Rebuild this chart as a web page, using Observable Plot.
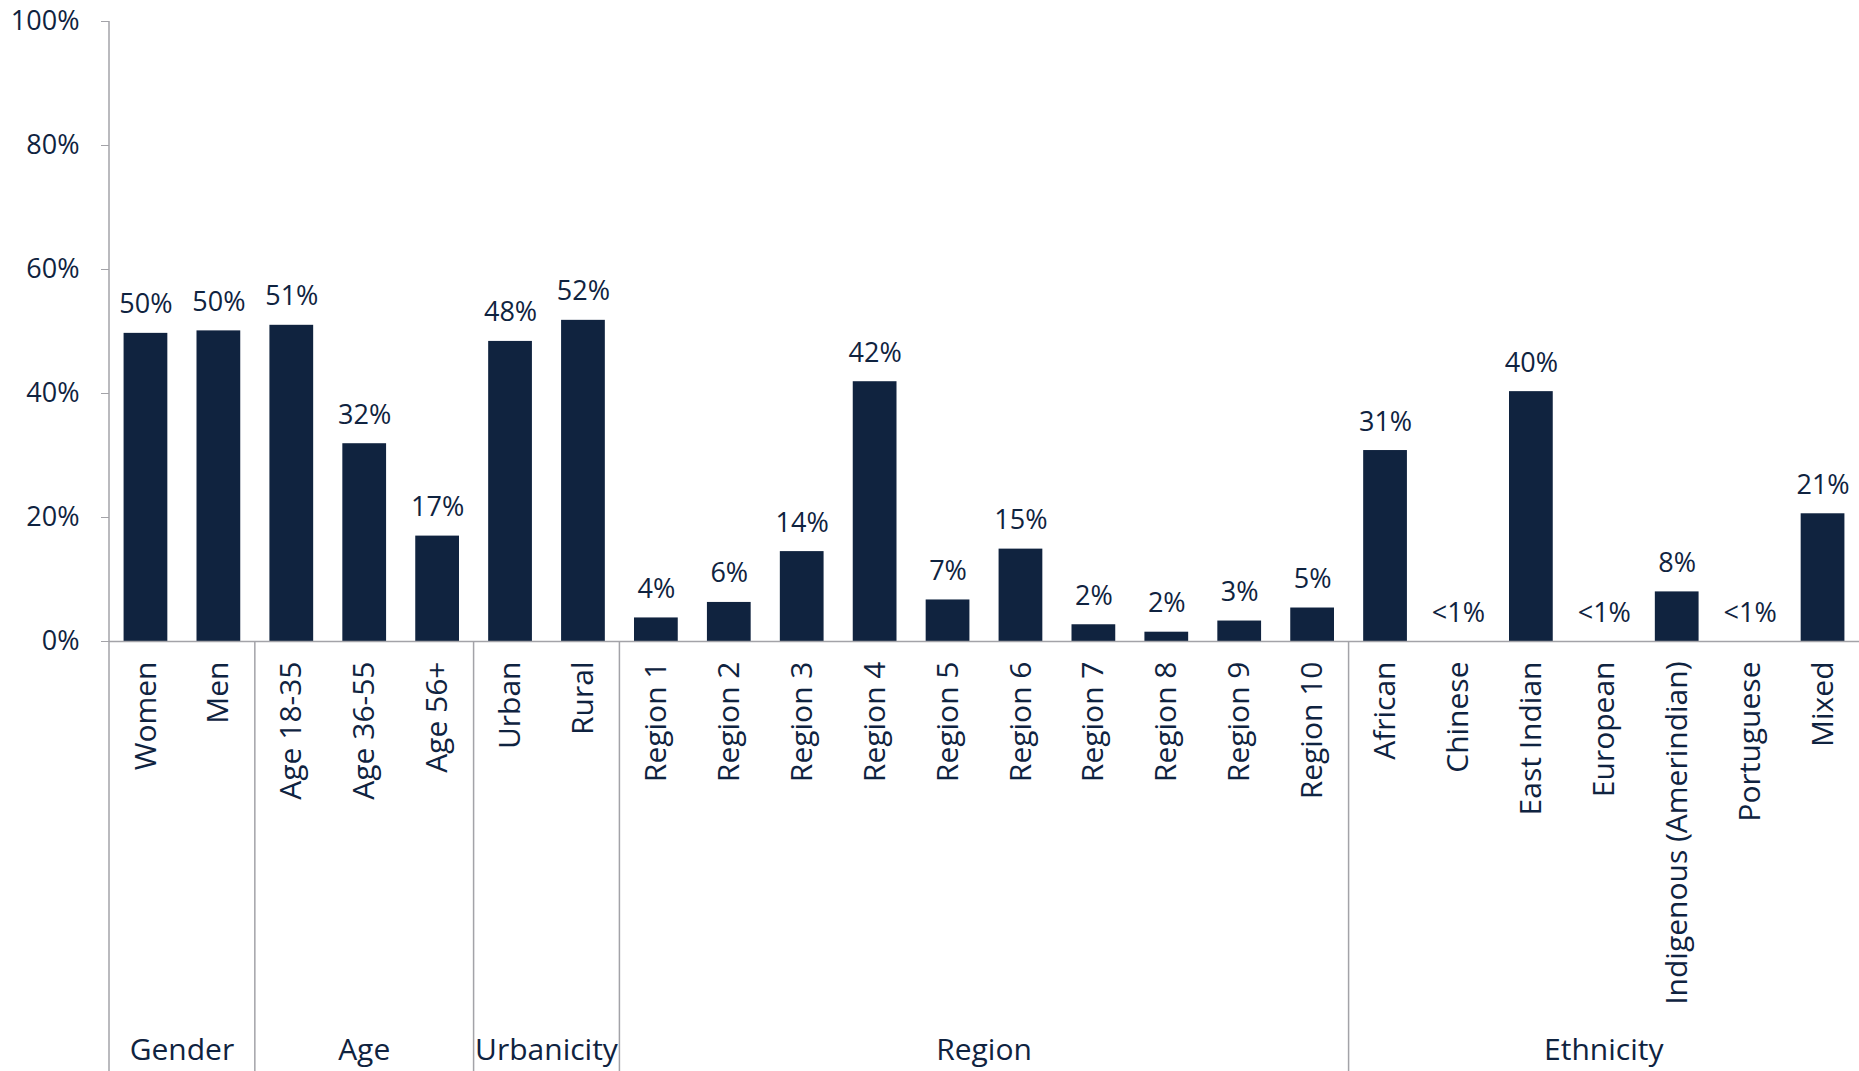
<!DOCTYPE html>
<html>
<head>
<meta charset="utf-8">
<script src="https://cdn.jsdelivr.net/npm/d3@7"></script>
<script src="https://cdn.jsdelivr.net/npm/@observablehq/plot@0.6"></script>
<style>
  html, body { margin: 0; padding: 0; background: #ffffff; }
  #chart { width: 1859px; height: 1071px; overflow: hidden; }
</style>
</head>
<body>
<div id="chart"></div>
<script>
const categories = ["Women", "Men", "Age 18-35", "Age 36-55", "Age 56+", "Urban", "Rural",
  "Region 1", "Region 2", "Region 3", "Region 4", "Region 5", "Region 6", "Region 7", "Region 8", "Region 9", "Region 10",
  "African", "Chinese", "East Indian", "European", "Indigenous (Amerindian)", "Portuguese", "Mixed"];
const groups = ["Gender", "Gender", "Age", "Age", "Age", "Urbanicity", "Urbanicity",
  "Region", "Region", "Region", "Region", "Region", "Region", "Region", "Region", "Region", "Region",
  "Ethnicity", "Ethnicity", "Ethnicity", "Ethnicity", "Ethnicity", "Ethnicity", "Ethnicity"];
const values = [0.497, 0.501, 0.510, 0.319, 0.170, 0.484, 0.518,
  0.038, 0.063, 0.145, 0.419, 0.067, 0.149, 0.027, 0.015, 0.033, 0.054,
  0.308, 0, 0.403, 0, 0.080, 0, 0.206];
const valueLabels = ["50%", "50%", "51%", "32%", "17%", "48%", "52%",
  "4%", "6%", "14%", "42%", "7%", "15%", "2%", "2%", "3%", "5%",
  "31%", "<1%", "40%", "<1%", "8%", "<1%", "21%"];
const yTicks = [0, 0.2, 0.4, 0.6, 0.8, 1.0];
const yTickLabels = ["0%", "20%", "40%", "60%", "80%", "100%"];

const navy = "#0f2340";
const gray = "#a3a3a8";
const data = categories.map((c, i) => ({category: c, group: groups[i], value: values[i], label: valueLabels[i]}));
const groupNames = Array.from(new Set(groups));

const paddingInner = 0.4, paddingOuter = 0.2;

function groupDecor(index, scales, values, dimensions) {
  const x = scales.x, y = scales.y;
  const step = x.step ? x.step() : (dimensions.width - dimensions.marginLeft - dimensions.marginRight) / categories.length;
  const g = d3.create("svg:g");
  const bottom = dimensions.height;
  const y0 = y(0);
  const bounds = groupNames.map(name => {
    const cats = categories.filter((c, i) => groups[i] === name);
    const left = x(cats[0]) - step * paddingOuter;
    const right = x(cats[cats.length - 1]) + x.bandwidth() + step * paddingOuter;
    return {name, left, right};
  });
  // y axis line extending to the bottom
  g.append("line")
    .attr("x1", bounds[0].left).attr("x2", bounds[0].left)
    .attr("y1", y(1)).attr("y2", bottom)
    .attr("stroke", gray).attr("stroke-width", 1.5);
  bounds.slice(1).forEach(b => {
    g.append("line")
      .attr("x1", b.left).attr("x2", b.left)
      .attr("y1", y0).attr("y2", bottom)
      .attr("stroke", gray).attr("stroke-width", 1.5);
  });
  bounds.forEach(b => {
    g.append("text")
      .attr("x", (b.left + b.right) / 2)
      .attr("y", bottom - 11)
      .attr("text-anchor", "middle")
      .attr("fill", navy)
      .attr("font-size", 30)
      .text(b.name);
  });
  return g.node();
}

const plot = Plot.plot({
  width: 1859,
  height: 1071,
  marginTop: 21,
  marginBottom: 430,
  marginLeft: 109,
  marginRight: 0,
  style: {fontFamily: "'Open Sans', sans-serif", fontSize: "27px", color: navy, background: "#ffffff"},
  x: {domain: categories, paddingInner, paddingOuter, round: false, label: null},
  y: {domain: [0, 1], label: null},
  marks: [
    Plot.axisY({ticks: yTicks, tickFormat: (d) => yTickLabels[yTicks.indexOf(d)], tickSize: 8, tickPadding: 22,
      stroke: gray, fill: navy, fontSize: 27, label: null}),
    Plot.axisX({tickSize: 0, tickPadding: 20, tickRotate: -90, fill: navy, fontSize: 30, label: null}),
    Plot.barY(data, {x: "category", y: "value", fill: "#10233f"}),
    Plot.ruleY([0], {stroke: gray, strokeWidth: 1.5}),
    Plot.text(data, {x: "category", y: "value", text: "label", lineAnchor: "bottom", dy: -20, fill: navy, fontSize: 27}),
    groupDecor
  ]
});
document.getElementById("chart").appendChild(plot);
</script>
</body>
</html>
